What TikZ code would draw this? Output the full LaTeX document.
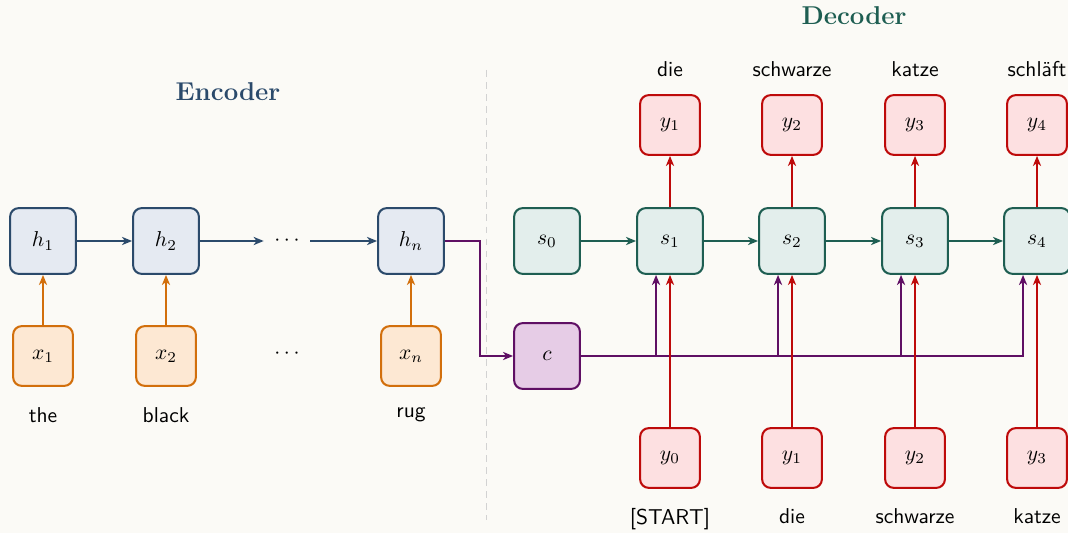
\documentclass[tikz,border=0pt]{standalone}
\usetikzlibrary{arrows.meta}

\definecolor{paper}{HTML}{FBFAF6}
\definecolor{encLine}{HTML}{2B4A6B}
\definecolor{encFill}{HTML}{E5EAF2}
\definecolor{inLine}{HTML}{D26F0C}
\definecolor{inFill}{HTML}{FDE8D3}
\definecolor{decLine}{HTML}{1E5E52}
\definecolor{decFill}{HTML}{E3EEEC}
\definecolor{ctxLine}{HTML}{5F0F64}
\definecolor{ctxFill}{HTML}{E6CCE6}
\definecolor{outLine}{HTML}{BE0A0A}
\definecolor{outFill}{HTML}{FDE0E1}

\begin{document}
\begin{tikzpicture}[x=0.4651pt, y=-0.4651pt,
  cell/.style={draw, rounded corners=4pt, line width=0.95pt, minimum size=30.6pt, inner sep=0pt},
  small/.style={cell, minimum size=27.8pt},
  hid/.style={cell, draw=encLine, fill=encFill},
  inp/.style={small, draw=inLine, fill=inFill},
  st/.style={cell, draw=decLine, fill=decFill},
  ctx/.style={cell, draw=ctxLine, fill=ctxFill},
  outp/.style={small, draw=outLine, fill=outFill},
  word/.style={font=\sffamily, inner sep=0pt},
  dots/.style={inner xsep=4.8pt, inner ysep=0pt},
  link/.style={line width=0.95pt, -{Stealth[length=4.7pt, width=3.8pt, inset=1.4pt]}},
  title/.style={font=\large\bfseries}
]
% page
\fill[paper] (0,0) rectangle (1068,533);
\useasboundingbox (0,0) rectangle (1068,533);

% separator between encoder and decoder
\coordinate (sepTop) at (486.5,70);
\coordinate (sepBot) at (486.5,520);
\draw[gray!35, line width=0.5pt, dash pattern=on 3.2pt off 2.4pt] (sepTop) -- (sepBot);

% ---------------- encoder ----------------
\node[title, text=encLine] (enc) at (228,92) {Encoder};

\node[hid] (h1) at (43,241) {$h_1$};
\node[hid] (h2) at (166,241) {$h_2$};
\node[dots] (hd) at (287,241) {$\cdots$};
\node[hid] (hn) at (411,241) {$h_n$};

\node[inp] (x1) at (43,356) {$x_1$};
\node[inp] (x2) at (166,356) {$x_2$};
\node[dots] (xd) at (287,354) {$\cdots$};
\node[inp] (xn) at (411,356) {$x_n$};

\node[word, anchor=north] (w1) at (43,407) {the};
\node[word, anchor=north] (w2) at (166,407) {black};
\node[word, anchor=north] (wn) at (411,407) {rug};

\draw[link, encLine] (h1) -- (h2);
\draw[link, encLine] (h2) -- (hd);
\draw[link, encLine] (hd) -- (hn);
\foreach \i in {1,2,n}
  \draw[link, inLine] (x\i) -- (h\i);

% ---------------- decoder ----------------
\node[title, text=decLine] (dec) at (854,16) {Decoder};

\node[st] (s0) at (547,241) {$s_0$};
\node[st] (s1) at (670,241) {$s_1$};
\node[st] (s2) at (792,241) {$s_2$};
\node[st] (s3) at (915,241) {$s_3$};
\node[st] (s4) at (1037,241) {$s_4$};

\node[ctx] (c) at (547,356) {$c$};

% outputs above the states
\node[outp] (o1) at (670,125) {$y_1$};
\node[outp] (o2) at (792,125) {$y_2$};
\node[outp] (o3) at (915,125) {$y_3$};
\node[outp] (o4) at (1037,125) {$y_4$};

\node[word, anchor=base] at (670,77) {die};
\node[word, anchor=base] at (792,77) {schwarze};
\node[word, anchor=base] at (915,77) {katze};
\node[word, anchor=base] at (1037,77) {schläft};

% inputs below the states
\node[outp] (i1) at (670,458) {$y_0$};
\node[outp] (i2) at (792,458) {$y_1$};
\node[outp] (i3) at (915,458) {$y_2$};
\node[outp] (i4) at (1037,458) {$y_3$};

\node[word, anchor=north] at (670,508) {[START]};
\node[word, anchor=north] at (792,508) {die};
\node[word, anchor=north] at (915,508) {schwarze};
\node[word, anchor=north] at (1037,508) {katze};

% recurrence
\draw[link, decLine] (s0) -- (s1);
\draw[link, decLine] (s1) -- (s2);
\draw[link, decLine] (s2) -- (s3);
\draw[link, decLine] (s3) -- (s4);

% last encoder state becomes the context vector
\draw[link, ctxLine] (hn.east) -- ++(35,0) |- (c.west);

% context feeds every decoder step
\foreach \k in {1,...,4}
  \draw[link, ctxLine] (c.east) -| ([xshift=-6.5pt]s\k.south);

% previous token in, current token out
\foreach \k in {1,...,4}{
  \draw[link, outLine] (i\k.north) -- (s\k.south);
  \draw[link, outLine] (s\k.north) -- (o\k.south);
}
\end{tikzpicture}
\end{document}
